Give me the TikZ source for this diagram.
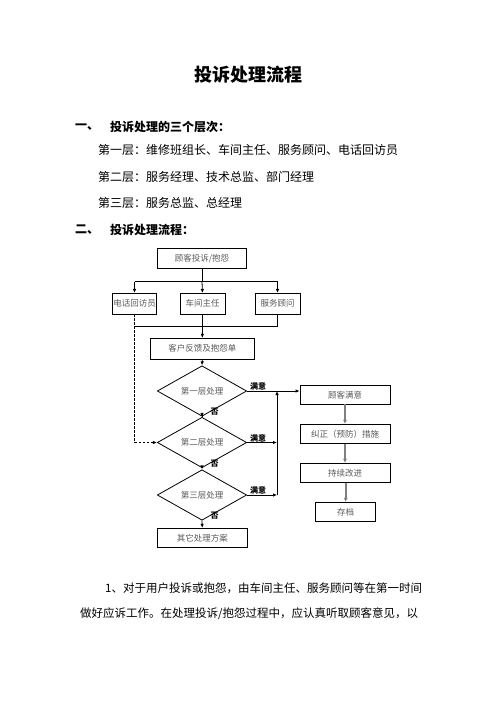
\documentclass[tikz,border=0pt]{standalone}
\usepackage{fontspec}
\newfontfamily\cjk{Noto Sans CJK SC}
\usetikzlibrary{shapes.geometric,arrows.meta}
\begin{document}
\begin{tikzpicture}[x=1pt,y=-1pt,
  every node/.style={font=\cjk},
  box/.style={draw=black,line width=0.8pt,inner sep=0pt,text=black!65,font=\cjk\fontsize{8.5}{10}\selectfont},
  dia/.style={draw=black,line width=0.8pt,diamond,inner sep=0pt,minimum width=89.4pt,minimum height=38pt,text=black!65,font=\cjk\fontsize{8.5}{10}\selectfont},
  arr/.style={line width=0.8pt,-{Latex[length=4pt,width=3.5pt]}},
  ln/.style={line width=0.8pt},
  garr/.style={draw=black!50,line width=2.2pt,-{Latex[length=4pt,width=4pt,fill=black]}},
  lab/.style={font=\cjk\bfseries\fontsize{8}{8}\selectfont,inner sep=0.5pt},
  body/.style={anchor=west,inner sep=0pt,font=\cjk\fontsize{12}{14}\selectfont},
  bodyb/.style={anchor=west,inner sep=0pt,font=\cjk\bfseries\fontsize{12}{14}\selectfont}]
\useasboundingbox (0,0) rectangle (496,702);
% texts
\node[font=\cjk\bfseries\fontsize{18}{20}\selectfont] (title) at (248,75) {投诉处理流程};
\node[bodyb] (h1n) at (75,126.7) {一、};
\node[bodyb] (h1) at (110,126.7) {投诉处理的三个层次：};
\node[body] (l1) at (98,150) {第一层：维修班组长、车间主任、服务顾问、电话回访员};
\node[body] (l2) at (98,176.7) {第二层：服务经理、技术总监、部门经理};
\node[body] (l3) at (98,203.3) {第三层：服务总监、总经理};
\node[bodyb] (h2n) at (75,230) {二、};
\node[bodyb] (h2) at (110,230) {投诉处理流程：};
\node[body,font=\cjk\fontsize{11.5}{13}\selectfont] (p1) at (105,588.3) {1、对于用户投诉或抱怨，由车间主任、服务顾问等在第一时间};
\node[body,font=\cjk\fontsize{11.5}{13}\selectfont] (p2) at (80,613.3) {做好应诉工作。在处理投诉/抱怨过程中，应认真听取顾客意见，以};
% flowchart nodes
\node[box,minimum width=89.4pt,minimum height=20pt] (n0) at (202,258.3) {顾客投诉/抱怨};
\node[box,minimum width=44.4pt,minimum height=20.7pt] (n1) at (134.5,303.7) {电话回访员};
\node[box,minimum width=45pt,minimum height=20.7pt] (n2) at (202.5,303.7) {车间主任};
\node[box,minimum width=45pt,minimum height=20.7pt] (n3) at (277.5,303.7) {服务顾问};
\node[box,minimum width=103.3pt,minimum height=20.7pt] (n4) at (202.3,348.7) {客户反馈及抱怨单};
\node[dia] (d1) at (202,391) {第一层处理};
\node[dia] (d2) at (202,442.5) {第二层处理};
\node[dia] (d3) at (202,495) {第三层处理};
\node[box,minimum width=90pt,minimum height=19pt] (n5) at (202.3,537.8) {其它处理方案};
\node[box,minimum width=90pt,minimum height=18.3pt] (r1) at (345,394.9) {顾客满意};
\node[box,minimum width=90pt,minimum height=19pt] (r2) at (345,433.8) {纠正（预防）措施};
\node[box,minimum width=90pt,minimum height=19.4pt] (r3) at (345,473) {持续改进};
\node[box,minimum width=60pt,minimum height=19.4pt] (r4) at (345.7,512) {存档};
% coordinates
\coordinate (b0) at (202,281.7);
\coordinate (bl) at (134.5,281.7);
\coordinate (br) at (277.5,281.7);
\coordinate (m0) at (202.5,326);
\coordinate (ml) at (134.5,326);
\coordinate (mr) at (277.5,326);
\coordinate (v1) at (277,391);
\coordinate (v2) at (277,442.5);
\coordinate (v3) at (277,495);
\coordinate (dc) at (134.5,442.5);
% connectors
\draw[ln] (n0.south) -- (b0);
\draw[ln] (bl) -- (br);
\draw[arr] (bl) -- (n1.north);
\draw[arr] (b0) -- (n2.north);
\draw[arr] (br) -- (n3.north);
\draw[ln] (n2.south) -- (m0);
\draw[ln] (n3.south) -- (mr);
\draw[ln] (ml) -- (mr);
\draw[arr] (m0) -- (n4.north);
\draw[arr] (n4.south) -- (d1.north);
\draw[arr] (d1.south) -- (d2.north);
\draw[arr] (d2.south) -- (d3.north);
\draw[arr] (d3.south) -- (n5.north);
\draw[ln,dashed,dash pattern=on 2.5pt off 1.5pt] (n1.south) -- (dc);
\draw[arr,dashed,dash pattern=on 2.5pt off 1.5pt] (dc) -- (d2.west);
\draw[arr] (d1.east) -- (r1.west |- v1);
\draw[arr] (d2.east) -- (v2);
\draw[arr] (d3.east) -- (v3);
\draw[arr] (v3) -- (v1);
\draw[garr] (r1.south) -- (r2.north);
\draw[garr] (r2.south) -- (r3.north);
\draw[garr] (r3.south -| r4.north) -- (r4.north);
% labels
\node[lab,anchor=south] (s1) at (258,391) {满意};
\node[lab,anchor=south] (s2) at (258,442.5) {满意};
\node[lab,anchor=south] (s3) at (258,495) {满意};
\node[lab,anchor=west] (f1) at (210,412) {否};
\node[lab,anchor=west] (f2) at (210,463.5) {否};
\node[lab,anchor=west] (f3) at (210,516) {否};
\end{tikzpicture}
\end{document}
